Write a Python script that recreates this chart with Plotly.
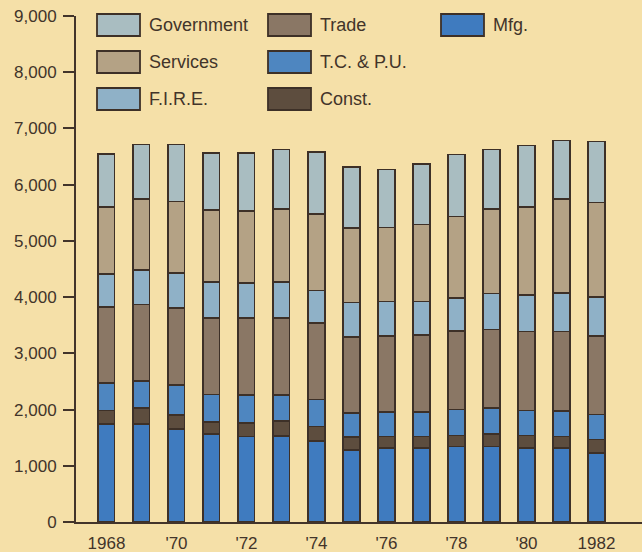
import plotly.graph_objects as go

years = list(range(1968, 1983))
mfg = [1742, 1742, 1653, 1564, 1523, 1534, 1445, 1285, 1321, 1315, 1345, 1345, 1315, 1315, 1226]
const = [243, 284, 255, 213, 242, 267, 255, 226, 201, 207, 195, 225, 225, 207, 243]
tcpu = [485, 486, 533, 492, 492, 456, 480, 432, 433, 433, 462, 456, 445, 451, 445]
trade = [1351, 1356, 1362, 1363, 1375, 1375, 1363, 1351, 1351, 1374, 1398, 1398, 1404, 1416, 1392]
fire = [587, 617, 628, 633, 622, 633, 574, 610, 616, 593, 581, 640, 651, 687, 693]
services = [1190, 1261, 1268, 1286, 1273, 1304, 1363, 1321, 1315, 1368, 1451, 1499, 1564, 1665, 1682]
government = [948, 966, 1013, 1013, 1037, 1060, 1096, 1084, 1031, 1073, 1103, 1061, 1091, 1043, 1085]

tick_years = [1968, 1970, 1972, 1974, 1976, 1978, 1980, 1982]
tick_text = ["1968", "'70", "'72", "'74", "'76", "'78", "'80", "1982"]

series = [
    ("Mfg.", mfg, "#3f7bbf"),
    ("Const.", const, "#5d4d3e"),
    ("T.C. & P.U.", tcpu, "#4e86c0"),
    ("Trade", trade, "#8a7765"),
    ("F.I.R.E.", fire, "#8fb1c7"),
    ("Services", services, "#b4a285"),
    ("Government", government, "#a9bdc1"),
]
colors = {n: c for n, _, c in series}

legend_columns = [
    ["Government", "Services", "F.I.R.E."],
    ["Trade", "T.C. & P.U.", "Const."],
    ["Mfg."],
]

INK = "#42342a"
BG = "#f5e0a8"

fig = go.Figure()
for name, vals, col in series:
    fig.add_trace(go.Bar(
        x=years, y=vals, name=name, width=0.47,
        marker=dict(color=col, line=dict(color="#3d3027", width=1.6)),
        showlegend=False,
    ))

W, H = 642, 552
L, R, T, B = 76, 0, 16, 30
pw, ph = W - L - R, H - T - B

def px_x(px):
    return (px - L) / pw

def px_y(py):
    return (H - B - py) / ph

col_x = [97, 268, 441]
row_y = [25, 62, 99]
sw_w, sw_h = 43, 22
shapes = []
annotations = []
for ci, col in enumerate(legend_columns):
    for ri, name in enumerate(col):
        x0 = col_x[ci]
        yc = row_y[ri]
        shapes.append(dict(
            type="rect", xref="paper", yref="paper",
            x0=px_x(x0), x1=px_x(x0 + sw_w),
            y0=px_y(yc + sw_h / 2), y1=px_y(yc - sw_h / 2),
            fillcolor=colors[name], line=dict(color="#3d3027", width=1.8),
        ))
        annotations.append(dict(
            xref="paper", yref="paper", x=px_x(x0 + sw_w + 7), y=px_y(yc),
            text=name, showarrow=False, xanchor="left", yanchor="middle",
            font=dict(size=18, color=INK, family="Liberation Sans, Arial, sans-serif"),
        ))

fig.update_layout(
    barmode="stack",
    width=W, height=H,
    margin=dict(l=L, r=R, t=T, b=B, pad=0, autoexpand=False),
    paper_bgcolor=BG, plot_bgcolor=BG,
    font=dict(family="Liberation Sans, Arial, sans-serif", size=17, color=INK),
    shapes=shapes, annotations=annotations,
    xaxis=dict(
        range=[1967.13, 1983.3], tickvals=tick_years, ticktext=tick_text,
        showgrid=False, zeroline=False, showline=True, linecolor=INK, linewidth=2,
        ticks="", tickfont=dict(size=17, color=INK), automargin=False,
        ticklabelstandoff=5,
    ),
    yaxis=dict(
        range=[0, 9000], dtick=1000, tickformat=",", showgrid=False, zeroline=False,
        showline=True, linecolor=INK, linewidth=2, ticks="outside", ticklen=11,
        tickwidth=2, tickcolor=INK, tickfont=dict(size=17, color=INK),
        automargin=False, ticklabelstandoff=3,
    ),
)

post = ("document.body.style.margin='0';document.body.style.padding='0';"
        "document.body.style.background='%s';document.body.style.overflow='hidden';" % BG)
fig.write_html("out.html", post_script=post, config={"displayModeBar": False})
